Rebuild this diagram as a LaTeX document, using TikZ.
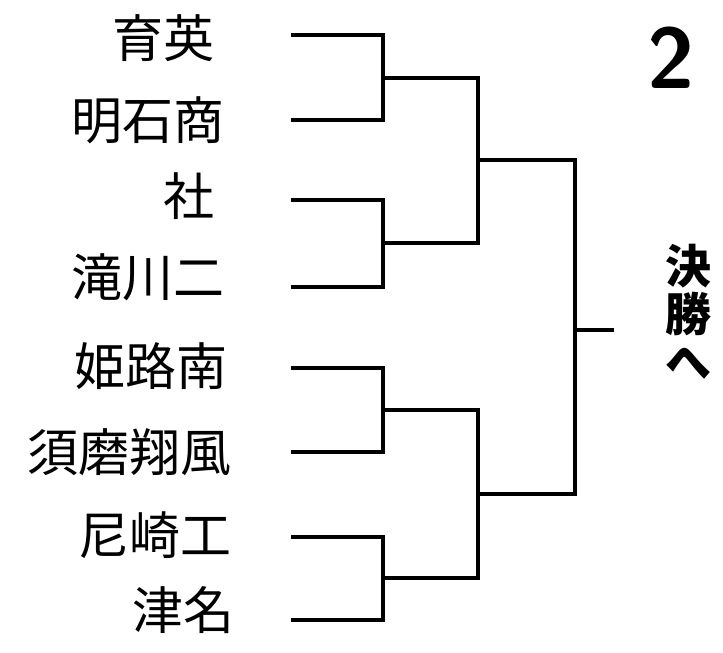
\documentclass[tikz,border=0pt]{standalone}
\usepackage{fontspec}
\newfontfamily\cjk{Noto Sans CJK JP}
\begin{document}
\begin{tikzpicture}[x=1pt,y=-1pt,
  br/.style={line width=3.5pt,line cap=rect},
  team/.style={anchor=east,font=\cjk\fontsize{51}{53}\selectfont,inner sep=0pt}]
\useasboundingbox (0,0) rectangle (723,653);
\foreach \n/\y/\t/\xx in {a/38/育英/215,b/120/明石商/225,c/196/社/215,d/277/滝川二/225,e/366/姫路南/228,f/452/須磨翔風/232,g/535/尼崎工/232,h/610/津名/235}{
  \node[team] (t\n) at (\xx,\y) {\t};
}
\foreach \n/\y in {a/35,b/120,c/200,d/287,e/368,f/452,g/537,h/620}{
  \coordinate (s\n) at (293,\y);
}
\draw[br] (sa) -| (383,78) |- (sb);
\draw[br] (sc) -| (383,243) |- (sd);
\draw[br] (se) -| (383,410) |- (sf);
\draw[br] (sg) -| (383,578) |- (sh);
\draw[br] (383,78) -| (478,160) |- (383,243);
\draw[br] (383,410) -| (478,494) |- (383,578);
\draw[br] (478,160) -| (575,330) |- (478,494);
\coordinate (fin) at (612,330);
\draw[br] (575,330) -- (fin);
\node[font=\cjk\bfseries\fontsize{46}{48}\selectfont,align=center,inner sep=0pt] (f) at (688,312) {決\\勝\\へ};
\node[font=\sffamily\bfseries\fontsize{86}{86}\selectfont,inner sep=0pt] (num) at (671,58) {2};
\end{tikzpicture}
\end{document}
